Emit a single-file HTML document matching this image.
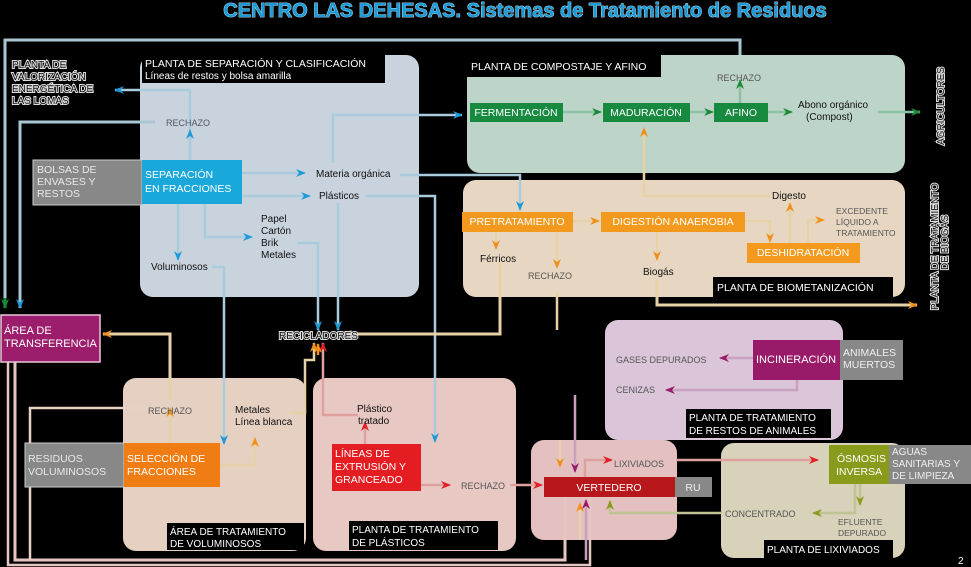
<!DOCTYPE html>
<html><head><meta charset="utf-8"><style>
html,body{margin:0;padding:0;background:#000;}
svg{display:block;font-family:"Liberation Sans",sans-serif;}
</style></head><body>
<svg width="971" height="567" viewBox="0 0 971 567" xmlns="http://www.w3.org/2000/svg">
<defs>
<marker id="ab" viewBox="0 0 10 10" refX="9" refY="5" markerWidth="10" markerHeight="10" orient="auto" markerUnits="userSpaceOnUse"><path d="M0,1 L10,5 L0,9 L3,5z" fill="#1e9ad8"/></marker>
<marker id="ag" viewBox="0 0 10 10" refX="9" refY="5" markerWidth="10" markerHeight="10" orient="auto" markerUnits="userSpaceOnUse"><path d="M0,1 L10,5 L0,9 L3,5z" fill="#1a8a3a"/></marker>
<marker id="ao" viewBox="0 0 10 10" refX="9" refY="5" markerWidth="10" markerHeight="10" orient="auto" markerUnits="userSpaceOnUse"><path d="M0,1 L10,5 L0,9 L3,5z" fill="#f0901a"/></marker>
<marker id="ar" viewBox="0 0 10 10" refX="9" refY="5" markerWidth="10" markerHeight="10" orient="auto" markerUnits="userSpaceOnUse"><path d="M0,1 L10,5 L0,9 L3,5z" fill="#e01e24"/></marker>
<marker id="ap" viewBox="0 0 10 10" refX="9" refY="5" markerWidth="10" markerHeight="10" orient="auto" markerUnits="userSpaceOnUse"><path d="M0,1 L10,5 L0,9 L3,5z" fill="#9a1a6a"/></marker>
<marker id="av" viewBox="0 0 10 10" refX="9" refY="5" markerWidth="10" markerHeight="10" orient="auto" markerUnits="userSpaceOnUse"><path d="M0,1 L10,5 L0,9 L3,5z" fill="#8a9a1a"/></marker>
</defs>
<rect width="971" height="567" fill="#000"/>
<text x="525" y="17" text-anchor="middle" font-size="20" font-weight="bold" fill="#1a9ad6" stroke="#cfefff" stroke-width="0.8" paint-order="stroke">CENTRO LAS DEHESAS. Sistemas de Tratamiento de Residuos</text>

<rect x="140" y="55" width="279" height="242" rx="13" fill="#c9d3de"/>
<rect x="467" y="55" width="438" height="118" rx="13" fill="#bdd5c8"/>
<rect x="463" y="180" width="442" height="117" rx="13" fill="#e7d7c2"/>
<rect x="605" y="320" width="238" height="120" rx="13" fill="#dbc6d9"/>
<rect x="123" y="378" width="183" height="173" rx="13" fill="#e6d0c2"/>
<rect x="313" y="378" width="203" height="173" rx="13" fill="#e8c8c2"/>
<rect x="531" y="440" width="146" height="100" rx="13" fill="#e4c0c0"/>
<rect x="721" y="443" width="184" height="115" rx="13" fill="#d7d2b9"/>

<g fill="none" stroke-width="3">
<path d="M5,305 V40 H740 V55" stroke="#a9c6d2"/>
<path d="M20,305 V122 H155" stroke="#a9c6d2"/>
<path d="M15,362 V560 H565 V497" stroke="#e6c6c0"/>
<path d="M8,362 V565 H590 V497" stroke="#e6c6c0" stroke-width="2.5"/>
<path d="M30,560 V408 H150" stroke="#e8d2c4" stroke-width="2.5"/>
</g>
<path d="M5,298 V308" stroke="#1a8a3a" stroke-width="3" marker-end="url(#ag)"/>
<path d="M20,298 V308" stroke="#a9c6d2" stroke-width="3" marker-end="url(#ab)"/>

<g fill="none" stroke="#a9cbdb" stroke-width="2.5">
<path d="M190,160 V90 H115" marker-end="url(#ab)"/>
<path d="M190,160 V130" marker-end="url(#ab)"/>
<path d="M242,173 H305" marker-end="url(#ab)"/>
<path d="M242,196 H310" marker-end="url(#ab)"/>
<path d="M333,163 V115 H462" marker-end="url(#ab)"/>
<path d="M400,175 H520 V210" marker-end="url(#ab)"/>
<path d="M365,196 H435 V442" marker-end="url(#ab)"/>
<path d="M178,204 V260" marker-end="url(#ab)"/>
<path d="M205,204 V237 H252" marker-end="url(#ab)"/>
<path d="M297,243 H318 V330" marker-end="url(#ab)"/>
<path d="M338,203 V330" marker-end="url(#ab)"/>
<path d="M212,267 H224 V444" marker-end="url(#ab)"/>
</g>
<g fill="none" stroke="#8fc0a6" stroke-width="2.5">
<path d="M563,112 H601" marker-end="url(#ag)"/>
<path d="M690,112 H713" marker-end="url(#ag)"/>
<path d="M768,112 H792" marker-end="url(#ag)"/>
<path d="M740,103 V80" marker-end="url(#ag)"/>
<path d="M878,112 H920" marker-end="url(#ag)"/>
</g>
<g fill="none" stroke="#e6d2a6" stroke-width="2.5">
<path d="M770,196 H644 V128" marker-end="url(#ao)"/>
<path d="M573,221 H599" marker-end="url(#ao)"/>
<path d="M745,221 H770 V242" marker-end="url(#ao)"/>
<path d="M790,243 V203" marker-end="url(#ao)"/>
<path d="M808,243 V220 H824" marker-end="url(#ao)"/>
<path d="M496,232 V249" marker-end="url(#ao)"/>
<path d="M557,232 V268" marker-end="url(#ao)"/>
<path d="M657,232 V260" marker-end="url(#ao)"/>
<path d="M657,280 V305 H917" marker-end="url(#ao)" stroke-width="3"/>
<path d="M500,262 V334 H343" marker-end="url(#ao)" stroke-width="3"/>
<path d="M557,292 V330"/>
<path d="M170,443 V408" marker-end="url(#ao)"/>
<path d="M170,400 V334 H103" marker-end="url(#ao)" stroke-width="3"/>
<path d="M220,465 H255 V438" marker-end="url(#ao)"/>
<path d="M290,413 H305 V360 H314 V343" marker-end="url(#ao)"/>
<path d="M580,540 V503" marker-end="url(#ao)"/>
<path d="M560,440 V467" marker-end="url(#ao)"/>
</g>
<g fill="none" stroke="#e0a0a0" stroke-width="2.5">
<path d="M358,415 H323 V343" marker-end="url(#ar)"/>
<path d="M365,444 V422" marker-end="url(#ar)"/>
<path d="M421,485 H450" marker-end="url(#ar)"/>
<path d="M510,485 H542" marker-end="url(#ar)"/>
<path d="M585,477 V460 H612" marker-end="url(#ar)"/>
<path d="M676,460 H818" marker-end="url(#ar)"/>
</g>
<g fill="none" stroke="#c9a0c0" stroke-width="2.5">
<path d="M753,358 H720" marker-end="url(#ap)"/>
<path d="M797,380 V390 H666" marker-end="url(#ap)"/>
<path d="M575,395 V472" marker-end="url(#ap)"/>
<path d="M586,560 V500" marker-end="url(#ap)"/>
</g>
<g fill="none" stroke="#c0c494" stroke-width="2.5">
<path d="M860,484 V505" marker-end="url(#av)"/>
<path d="M855,484 V513 H813" marker-end="url(#av)"/>
<path d="M722,513 H610 V501" marker-end="url(#av)"/>
</g>

<rect x="33" y="160" width="109" height="45" fill="#888" stroke="#ccc" stroke-width="1"/>
<rect x="142" y="160" width="100" height="44" fill="#1aa7da"/>
<rect x="142" y="55" width="243" height="28" fill="#000"/>
<rect x="467" y="55" width="194" height="22" fill="#000"/>
<rect x="470" y="103" width="93" height="19" fill="#178a3f"/>
<rect x="603" y="103" width="87" height="19" fill="#178a3f"/>
<rect x="714" y="103" width="54" height="19" fill="#178a3f"/>
<rect x="462" y="212" width="111" height="20" fill="#f39a1e"/>
<rect x="601" y="212" width="144" height="20" fill="#f39a1e"/>
<rect x="747" y="243" width="113" height="20" fill="#f39a1e"/>
<rect x="713" y="277" width="180" height="20" fill="#000"/>
<rect x="1" y="315" width="99" height="47" fill="#9c1d6c" stroke="#e8c8d8" stroke-width="1.5"/>
<rect x="25" y="443" width="99" height="44" fill="#888" stroke="#ccc" stroke-width="1"/>
<rect x="124" y="443" width="96" height="44" fill="#f07c14"/>
<rect x="167" y="523" width="137" height="27" fill="#000"/>
<rect x="332" y="444" width="89" height="47" fill="#e31d22"/>
<rect x="349" y="521" width="149" height="29" fill="#000"/>
<rect x="544" y="477" width="131" height="20" fill="#b8171c"/>
<rect x="675" y="477" width="37" height="20" fill="#888"/>
<rect x="753" y="340" width="87" height="40" fill="#9a1a6a"/>
<rect x="840" y="340" width="63" height="40" fill="#888"/>
<rect x="686" y="409" width="145" height="29" fill="#000"/>
<rect x="829" y="445" width="60" height="39" fill="#8a9a1a"/>
<rect x="889" y="445" width="82" height="39" fill="#888"/>
<rect x="764" y="540" width="129" height="18" fill="#000"/>

<g font-size="10.5" fill="#fff">
<text x="145" y="67">PLANTA DE SEPARACIÓN Y CLASIFICACIÓN</text>
<text x="145" y="79" font-size="10">Líneas de restos y bolsa amarilla</text>
<text x="37" y="173" fill="#e8e8e8">BOLSAS DE</text>
<text x="37" y="185" fill="#e8e8e8">ENVASES Y</text>
<text x="37" y="197" fill="#e8e8e8">RESTOS</text>
<text x="145" y="178">SEPARACIÓN</text>
<text x="145" y="192">EN FRACCIONES</text>
<text x="471" y="70">PLANTA DE COMPOSTAJE Y AFINO</text>
<text x="516" y="116" text-anchor="middle">FERMENTACIÓN</text>
<text x="646" y="116" text-anchor="middle">MADURACIÓN</text>
<text x="741" y="116" text-anchor="middle">AFINO</text>
<text x="517" y="225" text-anchor="middle">PRETRATAMIENTO</text>
<text x="673" y="225" text-anchor="middle">DIGESTIÓN ANAEROBIA</text>
<text x="803" y="256" text-anchor="middle">DESHIDRATACIÓN</text>
<text x="717" y="291">PLANTA DE BIOMETANIZACIÓN</text>
<text x="4" y="334" font-size="11">ÁREA DE</text>
<text x="4" y="347" font-size="11">TRANSFERENCIA</text>
<text x="28" y="462" fill="#e8e8e8">RESIDUOS</text>
<text x="28" y="475" fill="#e8e8e8">VOLUMINOSOS</text>
<text x="127" y="462">SELECCIÓN DE</text>
<text x="127" y="475">FRACCIONES</text>
<text x="170" y="535" font-size="10">ÁREA DE TRATAMIENTO</text>
<text x="170" y="547" font-size="10">DE VOLUMINOSOS</text>
<text x="335" y="457">LÍNEAS DE</text>
<text x="335" y="470">EXTRUSIÓN Y</text>
<text x="335" y="483">GRANCEADO</text>
<text x="352" y="533" font-size="10">PLANTA DE TRATAMIENTO</text>
<text x="352" y="546" font-size="10">DE PLÁSTICOS</text>
<text x="609" y="491" text-anchor="middle">VERTEDERO</text>
<text x="693" y="491" text-anchor="middle" fill="#eee">RU</text>
<text x="756" y="363" font-size="11">INCINERACIÓN</text>
<text x="843" y="356" fill="#eee">ANIMALES</text>
<text x="843" y="368" fill="#eee">MUERTOS</text>
<text x="689" y="421" font-size="10">PLANTA DE TRATAMIENTO</text>
<text x="689" y="434" font-size="10">DE RESTOS DE ANIMALES</text>
<text x="837" y="462">ÓSMOSIS</text>
<text x="836" y="475">INVERSA</text>
<text x="892" y="455" fill="#eee" font-size="10">AGUAS</text>
<text x="892" y="467" fill="#eee" font-size="10">SANITARIAS Y</text>
<text x="892" y="479" fill="#eee" font-size="10">DE LIMPIEZA</text>
<text x="767" y="553" font-size="10">PLANTA DE LIXIVIADOS</text>
</g>
<g font-size="10" fill="#111">
<text x="316" y="177">Materia orgánica</text>
<text x="319" y="199">Plásticos</text>
<text x="261" y="222">Papel</text>
<text x="261" y="234">Cartón</text>
<text x="261" y="246">Brik</text>
<text x="261" y="258">Metales</text>
<text x="151" y="270">Voluminosos</text>
<text x="166" y="126" fill="#556" font-size="9">RECHAZO</text>
<text x="798" y="108">Abono orgánico</text>
<text x="806" y="120">(Compost)</text>
<text x="717" y="81" fill="#555" font-size="9">RECHAZO</text>
<text x="772" y="199">Digesto</text>
<text x="836" y="214" fill="#555" font-size="8.5">EXCEDENTE</text>
<text x="836" y="225" fill="#555" font-size="8.5">LÍQUIDO A</text>
<text x="836" y="236" fill="#555" font-size="8.5">TRATAMIENTO</text>
<text x="480" y="262">Férricos</text>
<text x="528" y="279" fill="#555" font-size="9">RECHAZO</text>
<text x="643" y="275">Biogás</text>
<text x="148" y="414" fill="#555" font-size="9">RECHAZO</text>
<text x="235" y="413">Metales</text>
<text x="235" y="425">Línea blanca</text>
<text x="357" y="412">Plástico</text>
<text x="358" y="424">tratado</text>
<text x="461" y="489" fill="#555" font-size="9">RECHAZO</text>
<text x="616" y="363" fill="#555" font-size="9">GASES DEPURADOS</text>
<text x="616" y="393" fill="#555" font-size="9">CENIZAS</text>
<text x="614" y="467" fill="#555" font-size="9">LIXIVIADOS</text>
<text x="725" y="517" fill="#555" font-size="9">CONCENTRADO</text>
<text x="838" y="525" fill="#555" font-size="8.5">EFLUENTE</text>
<text x="838" y="536" fill="#555" font-size="8.5">DEPURADO</text>
</g>
<g font-size="10" fill="#111" stroke="#ddd" stroke-width="2" paint-order="stroke">
<text x="12" y="68">PLANTA DE</text>
<text x="12" y="80">VALORIZACIÓN</text>
<text x="12" y="92">ENERGÉTICA DE</text>
<text x="12" y="104">LAS LOMAS</text>
<text x="279" y="339">RECICLADORES</text>
<text transform="translate(944,145) rotate(-90)">AGRICULTORES</text>
<text transform="translate(938,310) rotate(-90)">PLANTA DE TRATAMIENTO</text>
<text transform="translate(948,270) rotate(-90)">DE BIOGÁS</text>
</g>
<text x="958" y="564" font-size="10" fill="#fff">2</text>
<path d="M318,355 V344" stroke="#f0901a" stroke-width="2.5" marker-end="url(#ao)"/>
</svg>
</body></html>
